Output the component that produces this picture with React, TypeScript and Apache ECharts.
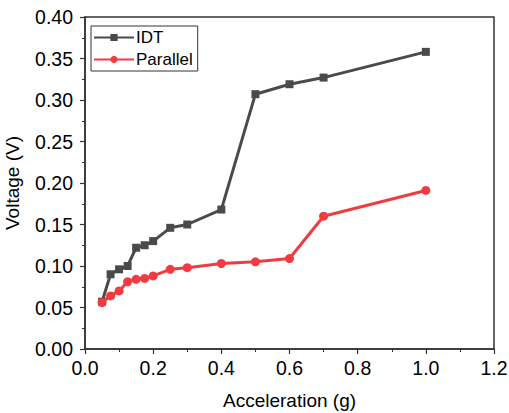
import React, { useEffect, useRef } from "react";
import * as echarts from "echarts";

const accel = [0.05, 0.075, 0.1, 0.125, 0.15, 0.175, 0.2, 0.25, 0.3, 0.4, 0.5, 0.6, 0.7, 1.0];
const idt = [0.057, 0.09, 0.096, 0.1, 0.122, 0.125, 0.13, 0.146, 0.15, 0.168, 0.307, 0.319, 0.327, 0.358];
const parallel = [0.056, 0.064, 0.07, 0.081, 0.084, 0.085, 0.088, 0.096, 0.098, 0.103, 0.105, 0.109, 0.16, 0.191];
const seriesNames = ["IDT", "Parallel"];

const FONT = "Liberation Sans, Arial, sans-serif";

export default function App() {
  const ref = useRef<HTMLDivElement>(null);
  useEffect(() => {
    if (!ref.current) return;
    const chart = echarts.init(ref.current, null, { renderer: "svg" });
    const axisColor = "#333";
    chart.setOption({
      animation: false,
      backgroundColor: "#fff",
      textStyle: { fontFamily: FONT },
      grid: {
        left: 85,
        right: 15,
        top: 17,
        bottom: 64,
        show: true,
        borderColor: axisColor,
        borderWidth: 1.5,
        containLabel: false,
        outerBoundsMode: "none",
      },
      legend: {
        left: 91,
        top: 26,
        orient: "vertical",
        itemWidth: 40,
        itemHeight: 9,
        itemGap: 5,
        padding: [3, 5, 3, 2],
        borderColor: "#333",
        borderWidth: 1,
        textStyle: { fontFamily: FONT, fontSize: 17, color: "#000", padding: [0, 0, 0, -3] },
        data: seriesNames,
      },
      xAxis: {
        type: "value",
        min: 0,
        max: 1.2,
        interval: 0.2,
        name: "Acceleration (g)",
        nameLocation: "middle",
        nameGap: 42,
        nameTextStyle: { fontFamily: FONT, fontSize: 19, color: "#000" },
        axisLine: { show: true, onZero: false, lineStyle: { color: axisColor, width: 1.5 } },
        axisTick: { show: true, inside: false, length: 5, lineStyle: { color: axisColor, width: 1.2 } },
        minorTick: { show: true, splitNumber: 2, length: 3, lineStyle: { color: axisColor, width: 1 } },
        splitLine: { show: false },
        axisLabel: {
          fontFamily: FONT,
          fontSize: 19.5,
          color: "#000",
          margin: 9,
          formatter: (v: number) => v.toFixed(1),
        },
      },
      yAxis: {
        type: "value",
        min: 0,
        max: 0.4,
        interval: 0.05,
        name: "Voltage (V)",
        nameLocation: "middle",
        nameGap: 63,
        nameTextStyle: { fontFamily: FONT, fontSize: 19, color: "#000" },
        axisLine: { show: true, onZero: false, lineStyle: { color: axisColor, width: 1.5 } },
        axisTick: { show: true, inside: false, length: 5, lineStyle: { color: axisColor, width: 1.2 } },
        minorTick: { show: true, splitNumber: 2, length: 3, lineStyle: { color: axisColor, width: 1 } },
        splitLine: { show: false },
        axisLabel: {
          fontFamily: FONT,
          fontSize: 19.5,
          color: "#000",
          margin: 12,
          formatter: (v: number) => v.toFixed(2),
        },
      },
      series: [
        {
          name: seriesNames[0],
          type: "line",
          data: accel.map((x, i) => [x, idt[i]]),
          symbol: "rect",
          symbolSize: 8,
          lineStyle: { color: "#4a4a4a", width: 3 },
          itemStyle: { color: "#4a4a4a" },
          z: 2,
        },
        {
          name: seriesNames[1],
          type: "line",
          data: accel.map((x, i) => [x, parallel[i]]),
          symbol: "circle",
          symbolSize: 9,
          lineStyle: { color: "#f03c40", width: 3 },
          itemStyle: { color: "#f03c40" },
          z: 3,
        },
      ],
    });
    return () => chart.dispose();
  }, []);
  return <div ref={ref} style={{ width: 509, height: 413, position: "absolute", left: 0, top: 0 }} />;
}
